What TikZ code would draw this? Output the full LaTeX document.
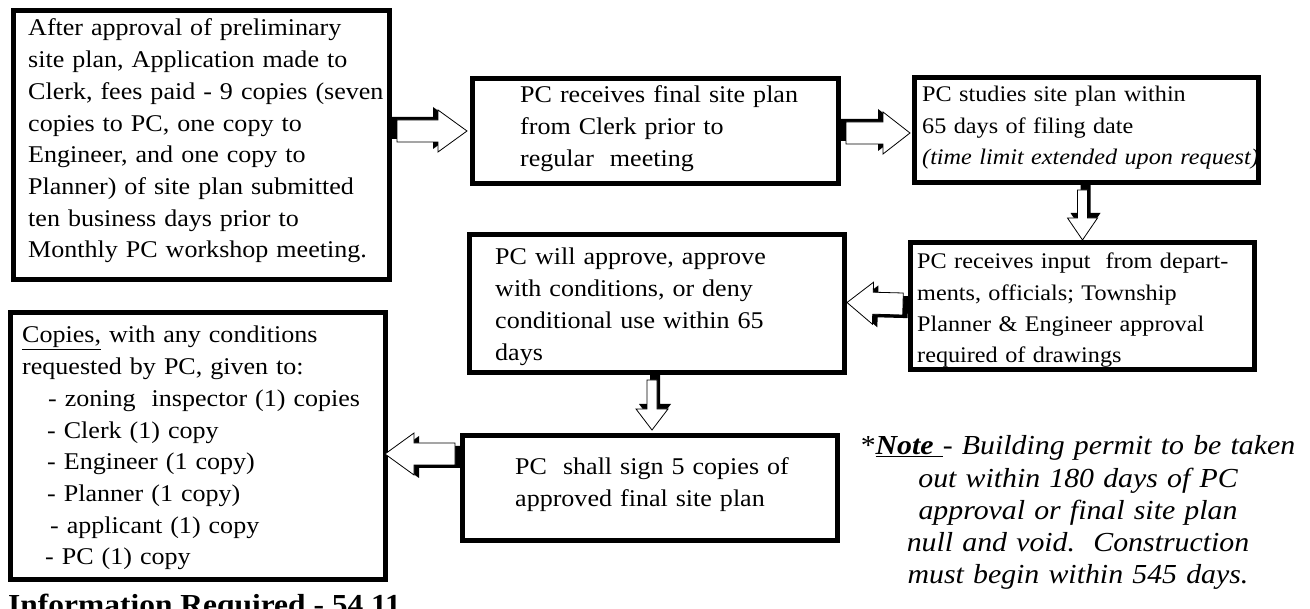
\documentclass[tikz,border=0pt]{standalone}
\usepackage{fontspec}
\setmainfont{Liberation Serif}[FakeStretch=1.085]
\usetikzlibrary{calc}

% Outline of a block arrow from back point #2 to tip #3:
% #4 shaft half-width, #5 head half-width, #6 head length
\newcommand\blockarrowpath[6][]{%
  \coordinate (bp-b) at ($(#3)!#6!(#2)$);
  \path[#1] ($(#2)!#4!90:(#3)$) -- ($(bp-b)!#4!90:(#3)$) -- ($(bp-b)!#5!90:(#3)$)
    -- (#3) -- ($(bp-b)!#5!-90:(#3)$) -- ($(bp-b)!#4!-90:(#3)$)
    -- ($(#2)!#4!-90:(#3)$) -- cycle;
}
% Block arrow with a solid shadow set 5pt back and 3pt to its left
\newcommand\blockarrow[5]{%
  \coordinate (ba-s) at #1;
  \coordinate (ba-e) at #2;
  \coordinate (ba-s0) at ($(ba-s)!5pt!180:(ba-e)$);
  \coordinate (ba-ss) at ($(ba-s0)!3pt!90:(ba-e)$);
  \coordinate (ba-e0) at ($(ba-e)!5pt!(ba-s)$);
  \coordinate (ba-es) at ($(ba-e0)!3pt!-90:(ba-s)$);
  \blockarrowpath[arrowshadow]{ba-ss}{ba-es}{#3}{#4}{#5}
  \blockarrowpath[arrowbody]{ba-s}{ba-e}{#3}{#4}{#5}
}

\begin{document}
\begin{tikzpicture}[x=1pt,y=-1pt,
  box/.style={draw=black, line width=5pt, fill=white, rectangle, inner sep=0pt,
    anchor=north west},
  txt/.style={anchor=base west, inner sep=0pt, text width=420pt, align=left,
    font=\fontsize{24}{31.7}\selectfont},
  smalltxt/.style={txt, font=\fontsize{22.3}{31.4}\selectfont},
  notetxt/.style={anchor=base, inner sep=0pt, text width=480pt, align=center,
    font=\fontsize{27.5}{32.2}\selectfont\itshape},
  arrowshadow/.style={fill=black},
  arrowbody/.style={fill=white, draw=black, line width=0.8pt, line join=miter}]

\useasboundingbox (0,0) rectangle (1310,609);

% boxes
\node[box, minimum width=376pt, minimum height=269pt] (A) at (11,8) {};
\node[box, minimum width=366pt, minimum height=105pt] (B) at (470,76) {};
\node[box, minimum width=344pt, minimum height=105pt] (C) at (912,75) {};
\node[box, minimum width=344pt, minimum height=127pt] (D) at (908,240) {};
\node[box, minimum width=375pt, minimum height=138pt] (E) at (467,232) {};
\node[box, minimum width=375pt, minimum height=105pt] (F) at (460,433) {};
\node[box, minimum width=375pt, minimum height=267pt] (G) at (8,310) {};

% box texts
\node[txt] (At) at (28,36) {After approval of preliminary\\
  site plan, Application made to\\
  Clerk, fees paid - 9 copies (seven\\
  copies to PC, one copy to\\
  Engineer, and one copy to\\
  Planner) of site plan submitted\\
  ten business days prior to\\
  Monthly PC workshop meeting.};
\node[txt] (Bt) at (520,103) {PC receives final site plan\\
  from Clerk prior to\\
  regular\ \ meeting};
\node[smalltxt] (Ct) at (922,102) {PC studies site plan within\\
  65 days of filing date\\
  \textit{(time limit extended upon request)}};
\node[smalltxt, font=\fontsize{22.3}{31.2}\selectfont] (Dt) at (917,269) {PC receives input\ \ from depart-\\
  ments, officials; Township\\
  Planner \& Engineer approval\\
  required of drawings};
\node[txt] (Et) at (495,265) {PC will approve, approve\\
  with conditions, or deny\\
  conditional use within 65\\
  days};
\node[txt] (Ft) at (515,475) {PC\ \ shall sign 5 copies of\\
  approved final site plan};
\node[txt] (Gt) at (22,343) {\underline{Copies,} with any conditions\\
  requested by PC, given to:\\
  \hspace*{26pt}- zoning\ \ inspector (1) copies\\
  \hspace*{25pt}- Clerk (1) copy\\
  \hspace*{25pt}- Engineer (1 copy)\\
  \hspace*{25pt}- Planner (1 copy)\\
  \hspace*{28pt}- applicant (1) copy\\
  \hspace*{23pt}- PC (1) copy};

% footnote and heading
\node[notetxt] (N) at (1078,455) {\upshape*\itshape\bfseries\underline{Note }\mdseries- Building permit to be taken\\
  out within 180 days of PC\\
  approval or final site plan\\
  null and void.\ \ Construction\\
  must begin within 545 days.};
\node[anchor=base west, inner sep=0pt, font=\fontsize{29}{32}\selectfont\bfseries]
  (T) at (8,614) {Information Required - 54.11};

% flow arrows
\blockarrow{($(A.east |- B.west)+(5,0)$)}{($(B.west)+(-3,0)$)}{11pt}{21pt}{29pt}
\blockarrow{($(B.east)+(5,2)$)}{($(C.west)+(-2,3)$)}{11pt}{21pt}{27pt}
\blockarrow{($(C.south -| D.north)+(0,5)$)}{(D.north)}{5pt}{15pt}{22pt}
\blockarrow{($(D.west)+(-5,-2)$)}{($(E.east)+(0,-1)$)}{11pt}{21pt}{26pt}
\blockarrow{($(E.south -| F.north)+(2,5)$)}{($(F.north)+(2,-3)$)}{5pt}{16pt}{21pt}
\blockarrow{($(F.north west)+(-5,21)$)}{($(G.east |- F.north west)+(-3,21)$)}{11pt}{21pt}{29pt}
\end{tikzpicture}
\end{document}
